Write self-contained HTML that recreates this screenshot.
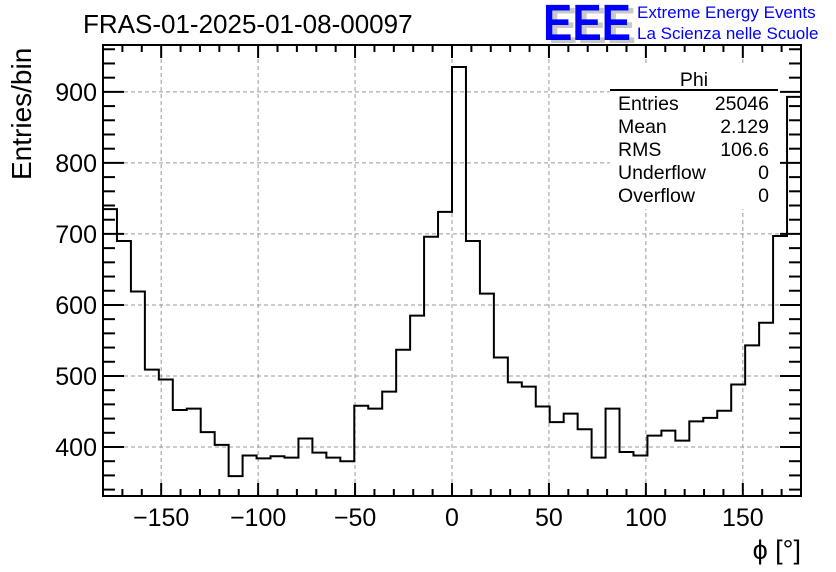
<!DOCTYPE html>
<html><head><meta charset="utf-8"><style>
body{margin:0;background:#fff;}
svg{display:block;font-family:"Liberation Sans",sans-serif;}
</style></head><body>
<svg id="chart" width="836" height="572" viewBox="0 0 836 572" xmlns="http://www.w3.org/2000/svg">
<rect width="836" height="572" fill="#fff"/>
<g id="grid"></g>
<g id="ticks"></g>
<path id="hist" fill="none" stroke="#000" stroke-width="2"/>
<rect x="103" y="45" width="698" height="451" fill="none" stroke="#000" stroke-width="2"/>
<g id="labels" font-size="25"></g>
<text x="83" y="33" font-size="26">FRAS-01-2025-01-08-00097</text>
<text transform="translate(31,180) rotate(-90)" font-size="28">Entries/bin</text>
<text x="801" y="559" font-size="27" text-anchor="end">ϕ [°]</text>
<g>
<text x="548" y="43" font-size="51" fill="#c8c8c8" font-weight="bold" textLength="88" lengthAdjust="spacingAndGlyphs">EEE</text>
<text x="543" y="40" font-size="51" fill="#0000ff" font-weight="bold" textLength="88" lengthAdjust="spacingAndGlyphs">EEE</text>
<text x="637" y="18" font-size="17" fill="#0000ff">Extreme Energy Events</text>
<text x="637" y="39" font-size="17" fill="#0000ff">La Scienza nelle Scuole</text>
</g>
<g font-size="19.5">
<rect x="610" y="66" width="169" height="143" fill="#fff"/>
<text x="694" y="86" text-anchor="middle">Phi</text>
<line x1="610" y1="90" x2="778" y2="90" stroke="#000" stroke-width="2"/>
<text x="618" y="110">Entries</text><text x="769" y="110" text-anchor="end">25046</text>
<text x="618" y="133">Mean</text><text x="769" y="133" text-anchor="end">2.129</text>
<text x="618" y="156">RMS</text><text x="769" y="156" text-anchor="end">106.6</text>
<text x="618" y="179">Underflow</text><text x="769" y="179" text-anchor="end">0</text>
<text x="618" y="202">Overflow</text><text x="769" y="202" text-anchor="end">0</text>
</g>
</svg>
<script>
const counts=[735,690,619,509,495,452,454,421,403,359,388,384,387,385,412,392,385,380,458,454,478,537,585,696,731,
935,690,616,526,491,485,457,435,447,425,385,454,393,388,416,423,409,436,441,451,488,543,575,697,893];
const xTicks=[-150,-100,-50,0,50,100,150];
const yTicks=[400,500,600,700,800,900];
const xMin=-180,xMax=180,yMin=331,yMax=966;
const L=103,R=801,T=45,B=496;
const sx=v=>L+(v-xMin)/(xMax-xMin)*(R-L);
const sy=v=>B-(v-yMin)/(yMax-yMin)*(B-T);
const NS="http://www.w3.org/2000/svg";
function mk(tag,attrs,parent){const e=document.createElementNS(NS,tag);for(const k in attrs)e.setAttribute(k,attrs[k]);parent.appendChild(e);return e;}
const grid=document.getElementById('grid'),ticks=document.getElementById('ticks'),labels=document.getElementById('labels');
xTicks.forEach(v=>{const x=sx(v);
 const g=mk('line',{x1:x,x2:x,y1:T,y2:B,stroke:'#999','stroke-dasharray':'4,3','stroke-width':1},grid);
 
 
 const t=mk('text',{x:x,y:526,'text-anchor':'middle'},labels);t.textContent=(v<0?'\u2212'+(-v):v);
 
 
});
yTicks.forEach(v=>{const y=sy(v);
 const g=mk('line',{x1:L,x2:R,y1:y,y2:y,stroke:'#999','stroke-dasharray':'4,3','stroke-width':1},grid);
 
 
 const t=mk('text',{x:97,y:y+9,'text-anchor':'end'},labels);t.textContent=v;
 
 
});
for(let v=-180;v<=180;v+=10){const x=sx(v);const len=(v%50===0)?13:7;
 mk('line',{x1:x,x2:x,y1:B,y2:B-len,stroke:'#000','stroke-width':2},ticks);
 mk('line',{x1:x,x2:x,y1:T,y2:T+len,stroke:'#000','stroke-width':2},ticks);}
for(let v=340;v<=960;v+=20){const y=sy(v);const len=(v%100===0)?21:12;
 mk('line',{x1:L,x2:L+len,y1:y,y2:y,stroke:'#000','stroke-width':2},ticks);
 mk('line',{x1:R,x2:R-len,y1:y,y2:y,stroke:'#000','stroke-width':2},ticks);}
const w=(xMax-xMin)/counts.length;
let d='M'+sx(xMin)+','+sy(yMin);
counts.forEach((c,i)=>{d+=' L'+sx(xMin+i*w)+','+sy(c)+' L'+sx(xMin+(i+1)*w)+','+sy(c);});
d+=' L'+sx(xMax)+','+sy(yMin);
document.getElementById('hist').setAttribute('d',d);
</script>
</body></html>
